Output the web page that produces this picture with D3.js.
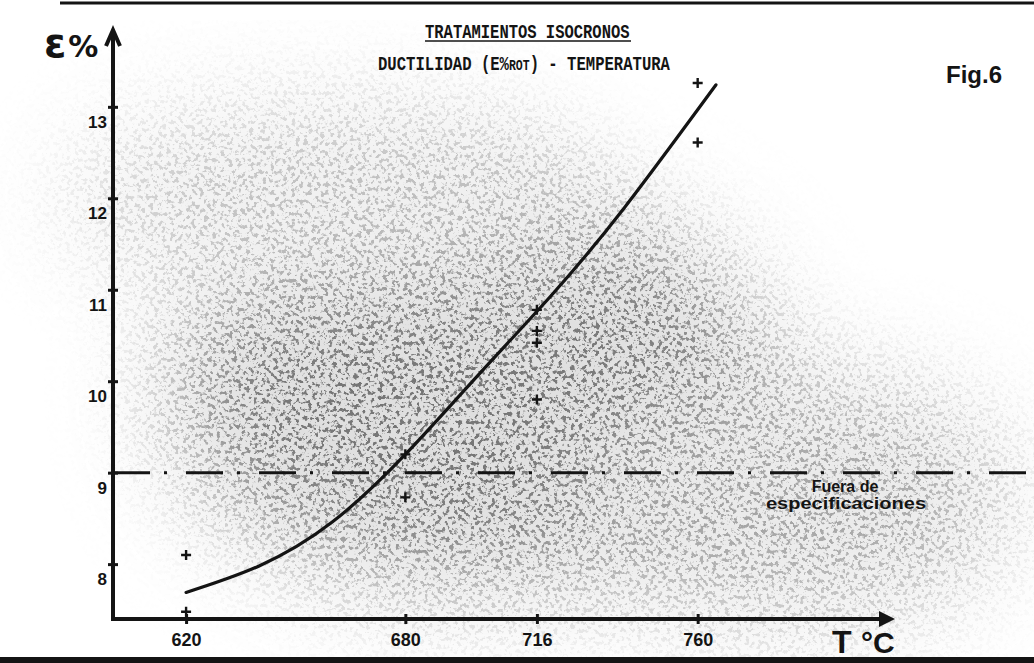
<!DOCTYPE html>
<html>
<head>
<meta charset="utf-8">
<script src="https://cdn.jsdelivr.net/npm/d3@7"></script>
<style>
  body { margin: 0; background: #fff; }
  svg { display: block; }
</style>
</head>
<body>
<div id="chart-area"></div>
<script>
// fitted curve (temperature, elongation at rupture %)
var curveTemps = [620, 640, 660, 680, 700, 720, 740, 765];
var curveValues = [7.69, 7.98, 8.46, 9.2, 10.07, 10.94, 11.9, 13.24];

// measured points ("+" marks)
var pointTemps = [620, 620, 680, 680, 716, 716, 716, 716, 760, 760];
var pointValues = [8.1, 7.48, 9.2, 8.73, 10.78, 10.55, 10.42, 9.8, 13.26, 12.61];

var xTicks = [620, 680, 716, 760];
var yTicks = [8, 9, 10, 11, 12, 13];
var specLimit = 9;

var width = 1034, height = 663;
var ink = "#141414";

var svg = d3.select("#chart-area").append("svg")
    .attr("width", width)
    .attr("height", height);

var x = d3.scaleLinear().domain([600, 814]).range([113, 895]);
var y = d3.scaleLinear().domain([7.4, 13.84]).range([619, 30]);

// scan texture (grey mottled area behind the plot)
var defs = svg.append("defs");
var speck = defs.append("filter").attr("id", "speckle")
    .attr("x", 0).attr("y", 0).attr("width", "100%").attr("height", "100%");
speck.append("feTurbulence")
    .attr("type", "fractalNoise").attr("baseFrequency", 0.24)
    .attr("numOctaves", 3).attr("seed", 7);
speck.append("feColorMatrix").attr("type", "matrix")
    .attr("values", "0 0 0 0 0.18  0 0 0 0 0.18  0 0 0 0 0.18  -9 0 0 0 4.3");

var blur = defs.append("filter").attr("id", "soft")
    .attr("x", "-50%").attr("y", "-50%").attr("width", "200%").attr("height", "200%");
blur.append("feGaussianBlur").attr("stdDeviation", 55);

var mask = defs.append("mask").attr("id", "area");
mask.append("rect").attr("width", width).attr("height", height).attr("fill", "#000");
mask.append("ellipse").attr("cx", 470).attr("cy", 390).attr("rx", 300).attr("ry", 200)
    .attr("fill", "#fff").attr("filter", "url(#soft)");
mask.append("ellipse").attr("cx", 790).attr("cy", 500).attr("rx", 220).attr("ry", 120)
    .attr("fill", "#aaa").attr("filter", "url(#soft)");
mask.append("ellipse").attr("cx", 330).attr("cy", 200).attr("rx", 260).attr("ry", 90)
    .attr("fill", "#777").attr("filter", "url(#soft)");

var tex = svg.append("g").attr("mask", "url(#area)");
tex.append("rect").attr("width", width).attr("height", height)
    .attr("fill", "#b0b0b0").attr("opacity", 0.4);
tex.append("rect").attr("width", width).attr("height", height)
    .attr("filter", "url(#speckle)");

// page borders
svg.append("line").attr("x1", 60).attr("x2", width).attr("y1", 3).attr("y2", 3)
    .attr("stroke", ink).attr("stroke-width", 3);
svg.append("rect").attr("x", 0).attr("y", 657).attr("width", width).attr("height", 6)
    .attr("fill", ink);

// specification limit
svg.append("line")
    .attr("x1", x(600)).attr("x2", 1030)
    .attr("y1", y(specLimit)).attr("y2", y(specLimit))
    .attr("stroke", ink).attr("stroke-width", 3)
    .attr("stroke-dasharray", "37,14,3,19");

svg.append("text")
    .attr("x", 845).attr("y", 492)
    .attr("text-anchor", "middle")
    .style("font-family", "Liberation Sans, Arial")
    .style("font-weight", "bold").style("font-size", "16px")
    .attr("fill", ink)
    .text("Fuera de");
svg.append("text")
    .attr("x", 846).attr("y", 509)
    .attr("text-anchor", "middle")
    .attr("textLength", 160).attr("lengthAdjust", "spacingAndGlyphs")
    .style("font-family", "Liberation Sans, Arial")
    .style("font-weight", "bold").style("font-size", "17px")
    .attr("fill", ink)
    .text("especificaciones");

// axes
var yAxis = svg.append("g")
    .attr("transform", "translate(" + x(600) + ",0)")
    .call(d3.axisLeft(y).tickValues(yTicks).tickSize(6).tickFormat(d3.format("d")));
var xAxis = svg.append("g")
    .attr("transform", "translate(0," + y(7.4) + ")")
    .call(d3.axisBottom(x).tickValues(xTicks).tickSize(6).tickFormat(d3.format("d")));

[yAxis, xAxis].forEach(function(g) {
  g.select(".domain").remove();
  g.selectAll(".tick line").attr("stroke", ink).attr("stroke-width", 3);
  g.selectAll(".tick text")
    .attr("fill", ink)
    .style("font-family", "Liberation Sans, Arial")
    .style("font-weight", "bold");
});
yAxis.selectAll(".tick line").attr("x1", 5).attr("x2", -5);
yAxis.selectAll(".tick text").attr("x", -6).attr("y", 15).style("font-size", "17px");
xAxis.selectAll(".tick line").attr("y1", -5).attr("y2", 5);
xAxis.selectAll(".tick text").attr("y", 14).style("font-size", "18px");

// axis lines with arrows
svg.append("line")
    .attr("x1", x(600)).attr("x2", x(600))
    .attr("y1", y(7.4) + 2).attr("y2", y(13.84) + 4)
    .attr("stroke", ink).attr("stroke-width", 4);
svg.append("path")
    .attr("d", "M" + (x(600) - 7) + "," + (y(13.84) + 16) + "L" + x(600) + "," + y(13.84) +
               "L" + (x(600) + 7) + "," + (y(13.84) + 16))
    .attr("fill", "none").attr("stroke", ink).attr("stroke-width", 4)
    .attr("stroke-linejoin", "miter");
svg.append("line")
    .attr("x1", x(600) - 2).attr("x2", x(814) - 6)
    .attr("y1", y(7.4)).attr("y2", y(7.4))
    .attr("stroke", ink).attr("stroke-width", 4);
svg.append("path")
    .attr("d", "M" + (x(814) - 16) + "," + (y(7.4) - 8) + "L" + x(814) + "," + y(7.4) +
               "L" + (x(814) - 16) + "," + (y(7.4) + 8) + "Z")
    .attr("fill", ink);

// axis titles
var yTitle = svg.append("text")
    .attr("x", 44).attr("y", 57)
    .attr("fill", ink)
    .style("font-family", "DejaVu Sans, Liberation Sans")
    .style("font-weight", "bold");
yTitle.append("tspan").style("font-size", "40px").text("ε");
yTitle.append("tspan").attr("dx", 2).style("font-size", "30px").text("%");

svg.append("text")
    .attr("x", 832).attr("y", 653)
    .attr("fill", ink)
    .style("font-family", "Liberation Sans, Arial")
    .style("font-weight", "bold").style("font-size", "32px")
    .text("T");
svg.append("text")
    .attr("x", 861).attr("y", 653)
    .attr("fill", ink)
    .style("font-family", "Liberation Sans, Arial")
    .style("font-weight", "bold").style("font-size", "30px")
    .text("°C");

// titles (typewriter lettering, stretched vertically)
var mono = "Liberation Mono, DejaVu Sans Mono, monospace";
svg.append("g")
    .attr("transform", "translate(425,38) scale(1,1.3)")
  .append("text")
    .attr("fill", ink)
    .style("font-family", mono).style("font-size", "15.5px").style("font-weight", "bold")
    .text("TRATAMIENTOS ISOCRONOS");
svg.append("line")
    .attr("x1", 425).attr("x2", 631).attr("y1", 41).attr("y2", 41)
    .attr("stroke", ink).attr("stroke-width", 1.5);

var sub = svg.append("g")
    .attr("transform", "translate(378,70) scale(1,1.3)")
  .append("text")
    .attr("fill", ink)
    .style("font-family", mono).style("font-size", "15.6px").style("font-weight", "bold");
sub.append("tspan").text("DUCTILIDAD (E%");
sub.append("tspan").style("font-size", "11.5px").text("ROT");
sub.append("tspan").text(") - TEMPERATURA");

svg.append("text")
    .attr("x", 946).attr("y", 83)
    .attr("fill", ink)
    .style("font-family", "Liberation Sans, Arial")
    .style("font-weight", "bold").style("font-size", "24px")
    .text("Fig.6");

// fitted curve
var line = d3.line()
    .x(function(d, i) { return x(curveTemps[i]); })
    .y(function(d) { return y(d); })
    .curve(d3.curveNatural);

svg.append("path")
    .datum(curveValues)
    .attr("d", line)
    .attr("fill", "none")
    .attr("stroke", ink)
    .attr("stroke-width", 3.2)
    .attr("stroke-linecap", "round");

// measured points
svg.selectAll(".pt").data(pointValues).enter()
  .append("path")
    .attr("class", "pt")
    .attr("transform", function(d, i) {
      return "translate(" + x(pointTemps[i]) + "," + y(d) + ")";
    })
    .attr("d", "M-5,0H5M0,-5V5")
    .attr("stroke", ink)
    .attr("stroke-width", 2.4);
</script>
</body>
</html>
